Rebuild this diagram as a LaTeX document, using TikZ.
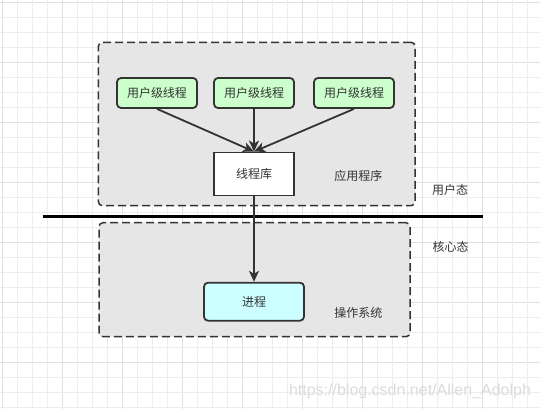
\documentclass[tikz,border=0pt]{standalone}
\usepackage{fontspec}
\newfontfamily\cjk{Noto Sans CJK SC}
\newfontfamily\wmfont{Liberation Sans}
\usetikzlibrary{arrows.meta}
\newdimen\px \px=0.75pt
\definecolor{stroke}{HTML}{333333}
\definecolor{txt}{HTML}{333333}
\definecolor{panel}{HTML}{E6E6E6}
\definecolor{ugreen}{HTML}{CCFFCC}
\definecolor{pcyan}{HTML}{CCFFFF}
\definecolor{gridminor}{HTML}{EDEDED}
\definecolor{gridmajor}{HTML}{E0E0E0}
\definecolor{wm}{HTML}{DCDCDC}
\tikzset{
  panelbox/.style={draw=stroke, fill=panel, line width=1.5\px, dash pattern=on 8\px off 4\px, rounded corners=4\px, inner sep=0pt},
  threadbox/.style={draw=stroke, fill=ugreen, line width=1.8\px, rounded corners=4\px, minimum width=80\px, minimum height=30\px, inner sep=0pt, text=txt, font=\cjk\fontsize{9pt}{11pt}\selectfont},
  libbox/.style={draw=stroke, fill=white, line width=1.8\px, minimum width=80\px, minimum height=43\px, inner sep=0pt, text=txt, font=\cjk\fontsize{9pt}{11pt}\selectfont},
  procbox/.style={draw=stroke, fill=pcyan, line width=1.8\px, rounded corners=4\px, minimum width=100\px, minimum height=38\px, inner sep=0pt, text=txt, font=\cjk\fontsize{9pt}{11pt}\selectfont},
  lbl/.style={text=txt, inner sep=0pt, font=\cjk\fontsize{9pt}{11pt}\selectfont},
  conn/.style={draw=stroke, line width=1.8\px, -{Stealth[length=8.25pt, width=7.5pt, inset=2.25pt]}},
}
\begin{document}
\begin{tikzpicture}[x=0.75pt, y=-0.75pt]
\useasboundingbox (0,0) rectangle (540,409);
\fill[white] (0,0) rectangle (540,409);
% grid
\foreach \i in {0,...,36} {
  \pgfmathsetmacro{\g}{2.5+15*\i}
  \pgfmathtruncatemacro{\m}{mod(\i,4)}
  \ifnum\m=0
    \draw[gridmajor, line width=1\px] (\g,0) -- (\g,409);
    \draw[gridmajor, line width=1\px] (0,\g) -- (540,\g);
  \else
    \draw[gridminor, line width=1\px] (\g,0) -- (\g,409);
    \draw[gridminor, line width=1\px] (0,\g) -- (540,\g);
  \fi
}
% panels
\node[panelbox, minimum width=316.7\px, minimum height=163.4\px] (app) at (256.7,124) {};
\node[panelbox, minimum width=311\px, minimum height=114\px] (os) at (254.5,279.7) {};
% separator
\coordinate (sepL) at (42.7,216.7);
\coordinate (sepR) at (483.3,216.7);
\draw[stroke, line width=3\px] (sepL) -- (sepR);
% nodes
\node[threadbox] (t1) at (157,93) {用户级线程};
\node[threadbox] (t2) at (254,93) {用户级线程};
\node[threadbox] (t3) at (354,93) {用户级线程};
\node[libbox] (lib) at (254,174) {线程库};
\node[procbox] (proc) at (254,301.7) {进程};
\node[lbl] (applbl) at (358.3,176) {应用程序};
\node[lbl] (oslbl) at (358.3,312.7) {操作系统};
\node[lbl] (user) at (450,190) {用户态};
\node[lbl] (kernel) at (450.7,246.5) {核心态};
% connectors
\draw[conn] (t1.south) -- (lib.north);
\draw[conn] (t2.south) -- (lib.north);
\draw[conn] (t3.south) -- (lib.north);
\draw[conn] (lib.south) -- (proc.north);
% watermark
\node[text=wm, inner sep=0pt, font=\wmfont\fontsize{12pt}{14pt}\selectfont] (wmk) at (410,391) {https://blog.csdn.net/Allen\_Adolph};
\end{tikzpicture}
\end{document}
